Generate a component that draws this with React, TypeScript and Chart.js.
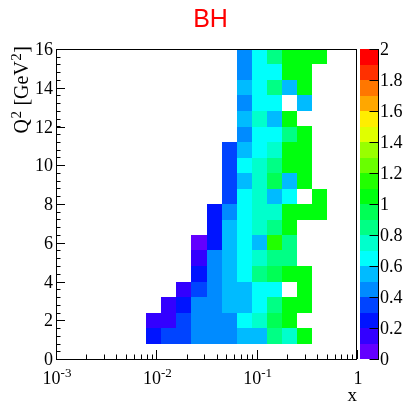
import React, { useEffect, useRef } from "react";
import { Chart, registerables } from "chart.js";

Chart.register(...registerables);

// ---- binning of the 2D histogram ----
const X_MIN = 1e-3;
const X_MAX = 1;
const X_BINS = 20;
const Y_MIN = 0;
const Y_MAX = 16;
const Y_BINS = 20;
const Z_MIN = 0;
const Z_MAX = 2;

// first filled x-bin of each Q2 row (row 0 = 0-0.8 GeV^2)
const rowFirstBin = [0, 6, 6, 7, 8, 9, 9, 9, 10, 10, 11, 11, 11, 11, 12, 12, 12, 12, 12, 12];

// bin contents per Q2 row, starting at rowFirstBin (null = empty bin)
const row00: (number | null)[] = [];
const row01: (number | null)[] = [0.25, 0.35, 0.35, 0.45, 0.45, 0.45, 0.55, 0.55, 0.85, 0.75, 1.05];
const row02: (number | null)[] = [0.15, 0.15, 0.35, 0.45, 0.45, 0.45, 0.65, 0.75, 0.95, 1.05];
const row03: (number | null)[] = [0.15, 0.25, 0.45, 0.45, 0.55, 0.55, 0.65, 0.85, 1.05, 1.05];
const row04: (number | null)[] = [0.15, 0.35, 0.45, 0.55, 0.55, 0.65, 0.65, null, 1.05];
const row05: (number | null)[] = [0.25, 0.45, 0.55, 0.65, 0.85, 0.95, 1.05, 1.05];
const row06: (number | null)[] = [0.15, 0.45, 0.55, 0.65, 0.75, 0.85, 0.85];
const row07: (number | null)[] = [0.05, 0.25, 0.55, 0.65, 0.55, 1.15, 0.85];
const row08: (number | null)[] = [0.25, 0.55, 0.65, 0.75, 0.85, 1.05];
const row09: (number | null)[] = [0.25, 0.45, 0.65, 0.75, 0.75, 1.05, 1.05, 1.05];
const row10: (number | null)[] = [0.35, 0.65, 0.75, 0.55, 0.65, null, 1.05];
const row11: (number | null)[] = [0.35, 0.55, 0.75, 0.95, 0.55, 1.05];
const row12: (number | null)[] = [0.35, 0.65, 0.75, 0.85, 1.05, 1.05];
const row13: (number | null)[] = [0.35, 0.55, 0.65, 0.75, 1.05, 1.05];
const row14: (number | null)[] = [0.45, 0.65, 0.65, 0.85, 1.05];
const row15: (number | null)[] = [0.55, 0.75, 0.55, 1.05];
const row16: (number | null)[] = [0.45, 0.65, 0.65, null, 0.55];
const row17: (number | null)[] = [0.55, 0.65, 0.85, 0.55, 1.05];
const row18: (number | null)[] = [0.45, 0.65, 0.65, 1.05, 1.05];
const row19: (number | null)[] = [0.45, 0.65, 0.85, 1.05, 1.05, 1.05];

const rows = [
  row00, row01, row02, row03, row04, row05, row06, row07, row08, row09,
  row10, row11, row12, row13, row14, row15, row16, row17, row18, row19,
];

// ROOT "pretty" palette, 20 contour levels
const paletteColors = [
  "rgb(99,0,255)", "rgb(51,0,255)", "rgb(0,20,255)", "rgb(0,68,255)", "rgb(0,139,255)",
  "rgb(0,187,255)", "rgb(0,255,252)", "rgb(0,255,204)", "rgb(0,255,133)", "rgb(0,255,85)",
  "rgb(0,255,14)", "rgb(34,255,0)", "rgb(105,255,0)", "rgb(153,255,0)", "rgb(224,255,0)",
  "rgb(255,238,0)", "rgb(255,167,0)", "rgb(255,119,0)", "rgb(255,48,0)", "rgb(255,0,0)",
];

// ---- axis ticks / labels ----
const xMajorTicks = [0.001, 0.01, 0.1, 1];
const xTickBase = ["10", "10", "10", "1"];
const xTickExp = ["-3", "-2", "-1", ""];
const yMajorTicks = [0, 2, 4, 6, 8, 10, 12, 14, 16];
const yTickLabels = ["0", "2", "4", "6", "8", "10", "12", "14", "16"];
const yMinorStep = 0.4;
const zTicks = [0, 0.2, 0.4, 0.6, 0.8, 1, 1.2, 1.4, 1.6, 1.8, 2];
const zTickLabels = ["0", "0.2", "0.4", "0.6", "0.8", "1", "1.2", "1.4", "1.6", "1.8", "2"];

const titleText = "BH";
const xTitle = "x";

const SERIF = '"Liberation Serif", "DejaVu Serif", serif';
const SANS = '"Liberation Sans", Arial, sans-serif';

function colorFor(v: number): string {
  const n = paletteColors.length;
  let k = Math.floor(((v - Z_MIN) / (Z_MAX - Z_MIN)) * n + 1e-9);
  if (k < 0) k = 0;
  if (k > n - 1) k = n - 1;
  return paletteColors[k];
}

const rootPlugin = {
  id: "rootTH2",
  beforeDraw(chart: any) {
    const ctx = chart.ctx;
    ctx.save();
    ctx.fillStyle = "#ffffff";
    ctx.fillRect(0, 0, chart.width, chart.height);
    ctx.restore();
  },
  afterDraw(chart: any) {
    const ctx: CanvasRenderingContext2D = chart.ctx;
    const a = chart.chartArea;
    const xs = chart.scales.x;
    const ys = chart.scales.y;
    const zs = chart.scales.z;
    ctx.save();

    // ---- cells ----
    const lx0 = Math.log10(X_MIN);
    const lx1 = Math.log10(X_MAX);
    const dy = (Y_MAX - Y_MIN) / Y_BINS;
    rows.forEach((row, j) => {
      const yv0 = Y_MIN + j * dy;
      const yv1 = yv0 + dy;
      row.forEach((v, i) => {
        if (v === null || v === undefined) return;
        const b = rowFirstBin[j] + i;
        const e0 = Math.pow(10, lx0 + (b * (lx1 - lx0)) / X_BINS);
        const e1 = Math.pow(10, lx0 + ((b + 1) * (lx1 - lx0)) / X_BINS);
        const px0 = Math.round(xs.getPixelForValue(e0));
        const px1 = Math.round(xs.getPixelForValue(e1));
        const py0 = Math.round(ys.getPixelForValue(yv0));
        const py1 = Math.round(ys.getPixelForValue(yv1));
        ctx.fillStyle = colorFor(v);
        ctx.fillRect(px0, py1, px1 - px0, py0 - py1);
      });
    });

    // ---- frame ----
    ctx.strokeStyle = "#000000";
    ctx.lineWidth = 1;
    ctx.strokeRect(a.left + 0.5, a.top + 0.5, a.right - a.left - 1, a.bottom - a.top);

    // ---- x ticks (log) ----
    ctx.beginPath();
    const majLen = 9;
    const minLen = 4.5;
    xMajorTicks.forEach((t) => {
      const px = Math.round(xs.getPixelForValue(t)) + 0.5;
      ctx.moveTo(px, a.bottom);
      ctx.lineTo(px, a.bottom - majLen);
    });
    for (let d = 0; d < xMajorTicks.length - 1; d++) {
      for (let m = 2; m <= 9; m++) {
        const px = Math.round(xs.getPixelForValue(xMajorTicks[d] * m)) + 0.5;
        ctx.moveTo(px, a.bottom);
        ctx.lineTo(px, a.bottom - minLen);
      }
    }
    // ---- y ticks ----
    yMajorTicks.forEach((t) => {
      const py = Math.round(ys.getPixelForValue(t)) + 0.5;
      ctx.moveTo(a.left, py);
      ctx.lineTo(a.left + majLen, py);
    });
    for (let v = Y_MIN; v <= Y_MAX + 1e-9; v += yMinorStep) {
      const py = Math.round(ys.getPixelForValue(v)) + 0.5;
      ctx.moveTo(a.left, py);
      ctx.lineTo(a.left + minLen, py);
    }
    ctx.stroke();

    // ---- x tick labels ----
    ctx.fillStyle = "#000000";
    ctx.textBaseline = "alphabetic";
    ctx.textAlign = "left";
    const baseFont = `18px ${SERIF}`;
    const supFont = `13px ${SERIF}`;
    xMajorTicks.forEach((t, i) => {
      const px = xs.getPixelForValue(t);
      ctx.font = baseFont;
      const wb = ctx.measureText(xTickBase[i]).width;
      ctx.font = supFont;
      const we = xTickExp[i] ? ctx.measureText(xTickExp[i]).width : 0;
      const x0 = px - (wb + we) / 2 + 1;
      ctx.font = baseFont;
      ctx.fillText(xTickBase[i], x0, 384);
      if (xTickExp[i]) {
        ctx.font = supFont;
        ctx.fillText(xTickExp[i], x0 + wb, 377);
      }
    });

    // ---- y tick labels ----
    ctx.font = baseFont;
    ctx.textAlign = "right";
    yMajorTicks.forEach((t, i) => {
      const py = ys.getPixelForValue(t);
      ctx.fillText(yTickLabels[i], a.left - 3, py + 6);
    });

    // ---- axis titles ----
    ctx.textAlign = "right";
    ctx.font = `19px ${SERIF}`;
    ctx.fillText(xTitle, a.right, 401);

    // y title: Q^{2} [GeV^{2}], rotated, right-aligned to top
    const titleFont = `20px ${SERIF}`;
    const titleSup = `15px ${SERIF}`;
    const parts: [string, boolean][] = [["Q", false], ["2", true], [" [GeV", false], ["2", true], ["]", false]];
    ctx.textAlign = "left";
    let total = 0;
    const widths = parts.map(([s, sup]) => {
      ctx.font = sup ? titleSup : titleFont;
      const w = ctx.measureText(s).width + (sup ? 1 : 0);
      total += w;
      return w;
    });
    ctx.save();
    ctx.translate(28, a.top - 3);
    ctx.rotate(-Math.PI / 2);
    let cx = -total;
    parts.forEach(([s, sup], i) => {
      ctx.font = sup ? titleSup : titleFont;
      ctx.fillText(s, cx + (sup ? 0.5 : 0), sup ? -7 : 0);
      cx += widths[i];
    });
    ctx.restore();

    // ---- palette (colour axis) ----
    const pl = 360;
    const pr = 379;
    const n = paletteColors.length;
    for (let k = 0; k < n; k++) {
      const v0 = Z_MIN + (k * (Z_MAX - Z_MIN)) / n;
      const v1 = Z_MIN + ((k + 1) * (Z_MAX - Z_MIN)) / n;
      const py0 = Math.round(zs.getPixelForValue(v0));
      const py1 = Math.round(zs.getPixelForValue(v1));
      ctx.fillStyle = paletteColors[k];
      ctx.fillRect(pl, py1, pr - pl, py0 - py1);
    }
    ctx.strokeStyle = "#000000";
    ctx.beginPath();
    ctx.moveTo(pr - 0.5, zs.getPixelForValue(Z_MIN));
    ctx.lineTo(pr - 0.5, zs.getPixelForValue(Z_MAX));
    zTicks.forEach((t) => {
      const py = Math.round(zs.getPixelForValue(t)) + 0.5;
      ctx.moveTo(pr, py);
      ctx.lineTo(pr - 9.5, py);
    });
    ctx.stroke();
    ctx.fillStyle = "#000000";
    ctx.font = baseFont;
    ctx.textAlign = "left";
    zTicks.forEach((t, i) => {
      const py = zs.getPixelForValue(t);
      ctx.fillText(zTickLabels[i], 380, py + 6);
    });

    // ---- title ----
    ctx.fillStyle = "#ff0000";
    ctx.font = `25px ${SANS}`;
    ctx.textAlign = "center";
    ctx.fillText(titleText, 210.5, 27);

    ctx.restore();
  },
};

export default function App() {
  const canvasRef = useRef<HTMLCanvasElement | null>(null);

  useEffect(() => {
    const canvas = canvasRef.current;
    if (!canvas) return;
    const chart = new Chart(canvas, {
      type: "scatter",
      data: { datasets: [{ data: [], pointRadius: 0 }] },
      options: {
        animation: false,
        responsive: false,
        events: [],
        layout: { padding: { left: 56, right: 49, top: 49, bottom: 45 } },
        plugins: { legend: { display: false }, tooltip: { enabled: false }, title: { display: false } },
        scales: {
          x: { type: "logarithmic", min: X_MIN, max: X_MAX, display: false },
          y: { type: "linear", min: Y_MIN, max: Y_MAX, display: false },
          z: { type: "linear", position: "right", min: Z_MIN, max: Z_MAX, display: false },
        },
      },
      plugins: [rootPlugin],
    });
    return () => chart.destroy();
  }, []);

  return (
    <div style={{ position: "absolute", left: 0, top: 0, width: 406, height: 404, background: "#fff" }}>
      <canvas ref={canvasRef} width={406} height={404} style={{ display: "block" }} />
    </div>
  );
}
